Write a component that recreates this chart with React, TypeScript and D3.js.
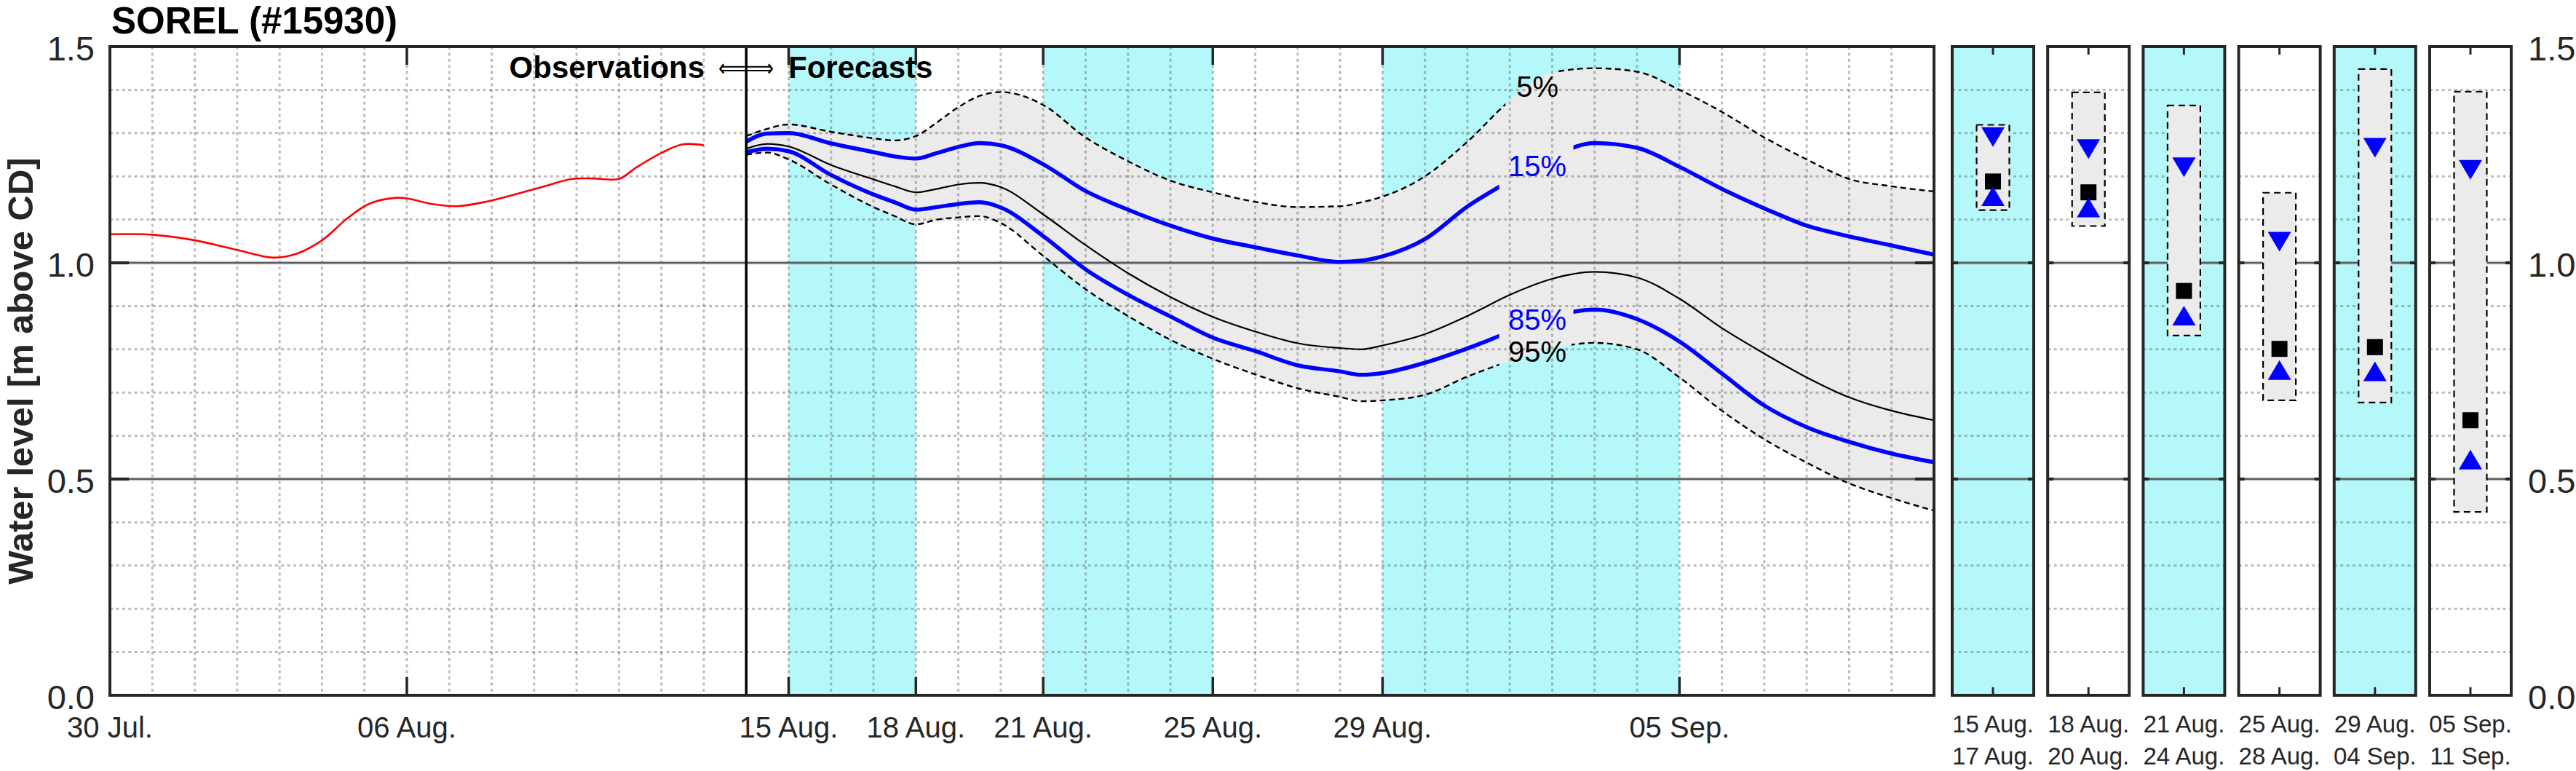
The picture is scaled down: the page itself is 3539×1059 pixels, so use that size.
import React, { useEffect } from "react";
import * as d3 from "d3";

const WIDTH = 3539;
const HEIGHT = 1059;

// ---------------- data ----------------
// days counted from 30 Jul. 00:00
const xTickDays = [0, 7, 16, 19, 22, 26, 30, 37];
const xTickLabels = ["30 Jul.", "06 Aug.", "15 Aug.", "18 Aug.", "21 Aug.", "25 Aug.", "29 Aug.", "05 Sep."];
const yTickValues = [0, 0.5, 1.0, 1.5];
const yTickLabels = ["0.0", "0.5", "1.0", "1.5"];

const obsDays = [0, 1, 2, 3, 3.85, 4.4, 5, 5.6, 6.1, 6.7, 7, 7.6, 8.2, 8.9, 10.1, 10.9, 11.4, 12, 12.4, 13, 13.5, 14];
const obsLevel = [1.066, 1.065, 1.052, 1.03, 1.012, 1.021, 1.052, 1.103, 1.136, 1.15, 1.149, 1.136, 1.131, 1.142, 1.173, 1.194, 1.195, 1.194, 1.22, 1.254, 1.274, 1.272];

const fcDays = [15, 15.5, 16, 17, 18, 18.5, 19, 19.5, 20, 20.5, 21, 22, 23, 24, 25, 26, 27, 28, 29, 29.5, 30, 31, 32, 33, 34, 35, 36, 37, 38, 39, 40, 41, 42, 43];
const fcP05 = [1.293, 1.31, 1.32, 1.303, 1.288, 1.283, 1.293, 1.325, 1.36, 1.386, 1.395, 1.365, 1.29, 1.235, 1.19, 1.163, 1.141, 1.129, 1.131, 1.14, 1.153, 1.2, 1.28, 1.375, 1.44, 1.45, 1.442, 1.4, 1.349, 1.29, 1.239, 1.194, 1.177, 1.165];
const fcP15 = [1.28, 1.299, 1.3, 1.276, 1.256, 1.246, 1.241, 1.254, 1.268, 1.277, 1.272, 1.228, 1.166, 1.123, 1.086, 1.056, 1.036, 1.017, 1.002, 1.005, 1.015, 1.055, 1.13, 1.19, 1.245, 1.277, 1.266, 1.222, 1.171, 1.126, 1.086, 1.061, 1.04, 1.019];
const fcP50 = [1.264, 1.275, 1.269, 1.226, 1.193, 1.177, 1.163, 1.171, 1.181, 1.185, 1.175, 1.112, 1.041, 0.976, 0.921, 0.875, 0.841, 0.814, 0.803, 0.8, 0.809, 0.835, 0.877, 0.926, 0.963, 0.979, 0.966, 0.917, 0.849, 0.79, 0.735, 0.689, 0.658, 0.636];
const fcP85 = [1.256, 1.264, 1.258, 1.203, 1.158, 1.14, 1.123, 1.129, 1.136, 1.14, 1.128, 1.062, 0.985, 0.926, 0.876, 0.827, 0.796, 0.763, 0.749, 0.741, 0.745, 0.769, 0.802, 0.84, 0.875, 0.892, 0.87, 0.818, 0.744, 0.67, 0.62, 0.586, 0.559, 0.539];
const fcP95 = [1.25, 1.255, 1.239, 1.181, 1.129, 1.108, 1.089, 1.1, 1.105, 1.108, 1.092, 1.016, 0.939, 0.877, 0.822, 0.778, 0.742, 0.71, 0.69, 0.68, 0.682, 0.695, 0.737, 0.773, 0.802, 0.815, 0.8, 0.735, 0.658, 0.592, 0.538, 0.49, 0.456, 0.427];

const shadeStart = [16, 22, 30];
const shadeEnd = [19, 26, 37];

const periodFrom = ["15 Aug.", "18 Aug.", "21 Aug.", "25 Aug.", "29 Aug.", "05 Sep."];
const periodTo = ["17 Aug.", "20 Aug.", "24 Aug.", "28 Aug.", "04 Sep.", "11 Sep."];
const periodShaded = [true, false, true, false, true, false];
const periodMax = [1.319, 1.394, 1.364, 1.162, 1.448, 1.396];
const periodP15 = [1.291, 1.263, 1.221, 1.049, 1.266, 1.215];
const periodMed = [1.188, 1.163, 0.935, 0.801, 0.805, 0.636];
const periodP85 = [1.154, 1.128, 0.878, 0.752, 0.749, 0.545];
const periodMin = [1.122, 1.085, 0.832, 0.682, 0.677, 0.424];

const pctNames = ["5%", "15%", "85%", "95%"];

// ---------------- layout / style ----------------
const MAIN = { left: 151, right: 2657, top: 64, bottom: 955 };
const PANELS = { left: 2682, right: 3450 };
const FONT = "'Liberation Sans', Arial, Helvetica, sans-serif";
const CYAN = "#b4f8fa";
const FILL = "#ebebeb";
const AXIS = "#262626";
const GRID = "rgba(80,80,80,0.38)";
const BLUE = "#0000ff";
const labelDay = 33.65;
const labelBase = [1.384, 1.2, 0.845, 0.771];
const labelGap = [[32.9, 34.1], [32.75, 34.5], [32.75, 34.5], [32.75, 34.45]];
const labelColor = ["#000", BLUE, BLUE, "#000"];

export default function App() {
  useEffect(() => {
    document.body.style.margin = "0";
  }, []);

  const x = d3.scaleLinear().domain([0, 43]).range([MAIN.left, MAIN.right]);
  const y = d3.scaleLinear().domain([0, 1.5]).range([MAIN.bottom, MAIN.top]);

  const mkLine = (xs: number[], ys: number[], curve: d3.CurveFactory = d3.curveMonotoneX) =>
    d3
      .line<number>()
      .x((_, i) => x(xs[i]))
      .y((d) => y(d))
      .curve(curve)(ys) as string;

  const bandArea = d3
    .area<number>()
    .x((_, i) => x(fcDays[i]))
    .y0((_, i) => y(fcP95[i]))
    .y1((d) => y(d))
    .curve(d3.curveMonotoneX)(fcP05) as string;

  const minorY = d3.range(1, 15).filter((i) => i % 5 !== 0).map((i) => i / 10);
  const majorY = [0.5, 1.0];
  const dayGrid = d3.range(1, 43);

  const pIdx = d3.range(periodFrom.length);
  const band = d3
    .scaleBand<number>()
    .domain(pIdx)
    .range([PANELS.left, PANELS.right])
    .paddingInner(0.146)
    .paddingOuter(0);
  const bw = band.bandwidth();

  const pctSeries = [fcP05, fcP15, fcP85, fcP95];

  const tri = (cx: number, cy: number, down: boolean) => {
    const hw = 16, hh = 13.5;
    return down
      ? `M${cx - hw},${cy - hh}L${cx + hw},${cy - hh}L${cx},${cy + hh}Z`
      : `M${cx - hw},${cy + hh}L${cx + hw},${cy + hh}L${cx},${cy - hh}Z`;
  };

  return (
    <svg
      width={WIDTH}
      height={HEIGHT}
      viewBox={`0 0 ${WIDTH} ${HEIGHT}`}
      style={{ position: "absolute", left: 0, top: 0, background: "#fff" }}
      fontFamily={FONT}
    >
      <defs>
        {labelGap.map((g, k) => (
          <clipPath id={`gap${k}`} key={k}>
            <rect x={0} y={0} width={x(g[0])} height={HEIGHT} />
            <rect x={x(g[1])} y={0} width={WIDTH - x(g[1])} height={HEIGHT} />
          </clipPath>
        ))}
      </defs>
      <rect x={0} y={0} width={WIDTH} height={HEIGHT} fill="#fff" />

      {/* title */}
      <text x={153} y={46} fontSize={51} fontWeight="bold" fill="#000">
        SOREL (#15930)
      </text>

      {/* ---------- main plot ---------- */}
      {shadeStart.map((s, i) => (
        <rect key={i} x={x(s)} y={MAIN.top} width={x(shadeEnd[i]) - x(s)} height={MAIN.bottom - MAIN.top} fill={CYAN} />
      ))}
      <path d={bandArea} fill={FILL} stroke="none" />

      {dayGrid.map((d) => (
        <line key={d} x1={x(d)} x2={x(d)} y1={MAIN.top} y2={MAIN.bottom} stroke={GRID} strokeWidth={3} strokeDasharray="4 4.4" />
      ))}
      {minorY.map((v) => (
        <line key={v} x1={MAIN.left} x2={MAIN.right} y1={y(v)} y2={y(v)} stroke={GRID} strokeWidth={3} strokeDasharray="4 4.4" />
      ))}
      {majorY.map((v) => (
        <g key={v}>
          <line x1={MAIN.left} x2={MAIN.right} y1={y(v)} y2={y(v)} stroke="rgba(0,0,0,0.12)" strokeWidth={5} />
          <line x1={MAIN.left} x2={MAIN.right} y1={y(v)} y2={y(v)} stroke="#5a5a5a" strokeWidth={2.5} />
        </g>
      ))}

      {/* forecast lines */}
      <path d={mkLine(fcDays, fcP50)} fill="none" stroke="#000" strokeWidth={2.2} />
      {pctSeries.map((s, k) => (
        <path
          key={k}
          d={mkLine(fcDays, s)}
          fill="none"
          clipPath={`url(#gap${k})`}
          stroke={k === 1 || k === 2 ? BLUE : "#000"}
          strokeWidth={k === 1 || k === 2 ? 5.5 : 2.4}
          strokeDasharray={k === 1 || k === 2 ? undefined : "8 5"}
          strokeLinejoin="round"
        />
      ))}
      {pctNames.map((t, k) => (
        <text key={t} x={x(labelDay)} y={y(labelBase[k])} fontSize={40} textAnchor="middle" fill={labelColor[k]}>
          {t}
        </text>
      ))}

      {/* observations */}
      <path d={mkLine(obsDays, obsLevel, d3.curveCatmullRom.alpha(0.5))} fill="none" stroke="#ff0000" strokeWidth={2.6} />

      {/* divider */}
      <line x1={x(15)} x2={x(15)} y1={MAIN.top} y2={MAIN.bottom} stroke="#000" strokeWidth={3.5} />
      <text x={968} y={107} fontSize={42} fontWeight="bold" textAnchor="end" fill="#000">
        Observations
      </text>
      <text x={987} y={105} fontSize={34} fontFamily="'DejaVu Sans', sans-serif" textLength={76} lengthAdjust="spacingAndGlyphs" fill="#000">
        ⟸⟹
      </text>
      <text x={1083} y={107} fontSize={42} fontWeight="bold" fill="#000">
        Forecasts
      </text>

      {/* main axes */}
      <rect x={MAIN.left} y={MAIN.top} width={MAIN.right - MAIN.left} height={MAIN.bottom - MAIN.top} fill="none" stroke={AXIS} strokeWidth={4} />
      {xTickDays.filter((d) => d > 0).map((d) => (
        <g key={d}>
          <line x1={x(d)} x2={x(d)} y1={MAIN.bottom} y2={MAIN.bottom - 25} stroke={AXIS} strokeWidth={3.5} />
          <line x1={x(d)} x2={x(d)} y1={MAIN.top} y2={MAIN.top + 25} stroke={AXIS} strokeWidth={3.5} />
        </g>
      ))}
      {majorY.map((v) => (
        <g key={v}>
          <line x1={MAIN.left} x2={MAIN.left + 26} y1={y(v)} y2={y(v)} stroke={AXIS} strokeWidth={4} />
          <line x1={MAIN.right} x2={MAIN.right - 26} y1={y(v)} y2={y(v)} stroke={AXIS} strokeWidth={4} />
        </g>
      ))}
      {xTickDays.map((d, i) => (
        <text key={d} x={x(d)} y={1013} fontSize={40} textAnchor="middle" fill={AXIS}>
          {xTickLabels[i]}
        </text>
      ))}
      {yTickValues.map((v, i) => (
        <text key={v} x={130} y={y(v) + 19} fontSize={47} textAnchor="end" fill={AXIS}>
          {yTickLabels[i]}
        </text>
      ))}
      <text
        transform={`translate(45, ${(MAIN.top + MAIN.bottom) / 2}) rotate(-90)`}
        fontSize={49}
        fontWeight="bold"
        textAnchor="middle"
        fill={AXIS}
      >
        Water level [m above CD]
      </text>

      {/* ---------- period panels ---------- */}
      {pIdx.map((i) => {
        const px = band(i) as number;
        const cx = px + bw / 2;
        return (
          <g key={i}>
            <rect x={px} y={MAIN.top} width={bw} height={MAIN.bottom - MAIN.top} fill={periodShaded[i] ? CYAN : "#fff"} />
            {minorY.map((v) => (
              <line key={v} x1={px} x2={px + bw} y1={y(v)} y2={y(v)} stroke={GRID} strokeWidth={3} strokeDasharray="4 4.4" />
            ))}
            {majorY.map((v) => (
              <g key={v}>
                <line x1={px} x2={px + bw} y1={y(v)} y2={y(v)} stroke="rgba(0,0,0,0.12)" strokeWidth={5} />
                <line x1={px} x2={px + bw} y1={y(v)} y2={y(v)} stroke="#5a5a5a" strokeWidth={2.5} />
              </g>
            ))}
            <rect
              x={cx - 22.5}
              y={y(periodMax[i])}
              width={45}
              height={y(periodMin[i]) - y(periodMax[i])}
              fill={FILL}
              stroke="#000"
              strokeWidth={2.2}
              strokeDasharray="9 6"
            />
            <rect x={cx - 11} y={y(periodMed[i]) - 11} width={22} height={22} fill="#000" />
            <path d={tri(cx, y(periodP15[i]), true)} fill={BLUE} />
            <path d={tri(cx, y(periodP85[i]), false)} fill={BLUE} />
            <rect x={px} y={MAIN.top} width={bw} height={MAIN.bottom - MAIN.top} fill="none" stroke={AXIS} strokeWidth={4} />
            <line x1={cx} x2={cx} y1={MAIN.top} y2={MAIN.top + 11} stroke={AXIS} strokeWidth={3} />
            <line x1={cx} x2={cx} y1={MAIN.bottom} y2={MAIN.bottom - 11} stroke={AXIS} strokeWidth={3} />
            {majorY.map((v) => (
              <g key={v}>
                <line x1={px} x2={px + 8} y1={y(v)} y2={y(v)} stroke={AXIS} strokeWidth={4} />
                <line x1={px + bw} x2={px + bw - 8} y1={y(v)} y2={y(v)} stroke={AXIS} strokeWidth={4} />
              </g>
            ))}
            <text x={cx} y={1006} fontSize={33} textAnchor="middle" fill={AXIS}>
              {periodFrom[i]}
            </text>
            <text x={cx} y={1050} fontSize={33} textAnchor="middle" fill={AXIS}>
              {periodTo[i]}
            </text>
          </g>
        );
      })}
      {yTickValues.map((v, i) => (
        <text key={v} x={3473} y={y(v) + 19} fontSize={47} textAnchor="start" fill={AXIS}>
          {yTickLabels[i]}
        </text>
      ))}
    </svg>
  );
}
